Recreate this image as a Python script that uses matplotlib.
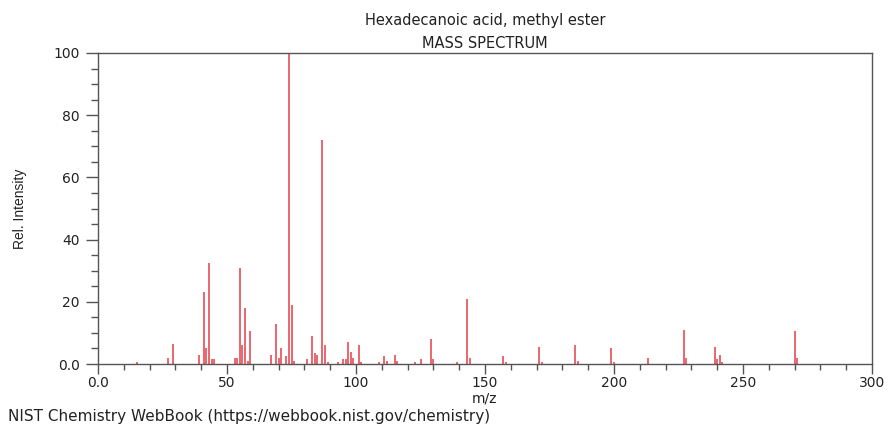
import matplotlib
matplotlib.use("Agg")
import matplotlib.pyplot as plt
from matplotlib.ticker import MultipleLocator, FuncFormatter

mz = [15, 27, 29, 39, 41, 42, 43, 44, 45, 53, 54, 55, 56, 57, 58, 59,
      67, 69, 70, 71, 73, 74, 75, 76, 81, 83, 84, 85, 87, 88, 89,
      93, 95, 96, 97, 98, 99, 101, 102, 109, 111, 112, 115, 116,
      123, 125, 129, 130, 139, 143, 144, 157, 158, 171, 172,
      185, 186, 199, 200, 213, 227, 228, 239, 240, 241, 242, 270, 271]
intensity = [0.5, 2.0, 6.5, 3.0, 23.0, 5.0, 32.5, 1.5, 1.5, 2.0, 2.0, 31.0, 6.0, 18.0, 1.0, 10.5,
             3.0, 13.0, 2.0, 5.0, 2.5, 100.0, 19.0, 1.0, 1.5, 9.0, 3.5, 3.0, 72.0, 6.0, 0.5,
             0.5, 1.5, 1.5, 7.0, 4.0, 2.0, 6.0, 0.5, 0.5, 2.5, 1.0, 3.0, 1.0,
             0.5, 1.5, 8.0, 1.5, 0.5, 21.0, 2.0, 2.5, 0.5, 5.5, 0.8,
             6.0, 1.0, 5.0, 0.8, 2.0, 11.0, 2.0, 5.5, 1.5, 2.8, 0.5, 10.5, 2.0]

title_lines = ["Hexadecanoic acid, methyl ester", "MASS SPECTRUM"]
x_label = "m/z"
y_label = "Rel. Intensity"
footer = "NIST Chemistry WebBook (https://webbook.nist.gov/chemistry)"

fig = plt.figure(figsize=(8.88, 4.29), dpi=100)
ax = fig.add_axes([98/888, 1-364/429, (872-98)/888, (364-53)/429])

ax.vlines(mz, 0, intensity, colors="#e85a62", linewidth=1.3)

ax.set_xlim(0, 300)
ax.set_ylim(0, 100)
ax.xaxis.set_major_locator(MultipleLocator(50))
ax.xaxis.set_minor_locator(MultipleLocator(10))
ax.yaxis.set_major_locator(MultipleLocator(20))
ax.yaxis.set_minor_locator(MultipleLocator(5))
fmt = FuncFormatter(lambda v, p: "0.0" if v == 0 else f"{int(v)}")
ax.xaxis.set_major_formatter(fmt)
ax.yaxis.set_major_formatter(fmt)

for s in ax.spines.values():
    s.set_color("#555555")
    s.set_linewidth(1.0)
ax.tick_params(which="major", direction="out", length=7, width=1.0, color="#555555",
               labelsize=10, labelcolor="#222222")
ax.tick_params(which="minor", direction="out", length=4, width=1.0, color="#555555")
ax.tick_params(axis="x", which="major", pad=1.5)
ax.tick_params(axis="y", which="major", length=9, pad=4)
ax.tick_params(axis="y", which="minor", length=5)

fig.text(485/888, 1-20/429, title_lines[0], ha="center", va="center", fontsize=10.5,
         color="#222222")
fig.text(485/888, 1-43/429, title_lines[1], ha="center", va="center", fontsize=10.5,
         color="#222222")
fig.text(484/888, 1-399/429, x_label, ha="center", va="center", fontsize=10, color="#222222")
fig.text(20/888, 1-209/429, y_label, ha="center", va="center", rotation=90, fontsize=10,
         family="Liberation Sans", color="#222222")
fig.text(8/888, 1-416/429, footer, ha="left", va="center", fontsize=11,
         color="#222222")

fig.savefig("out.png", dpi=100)
